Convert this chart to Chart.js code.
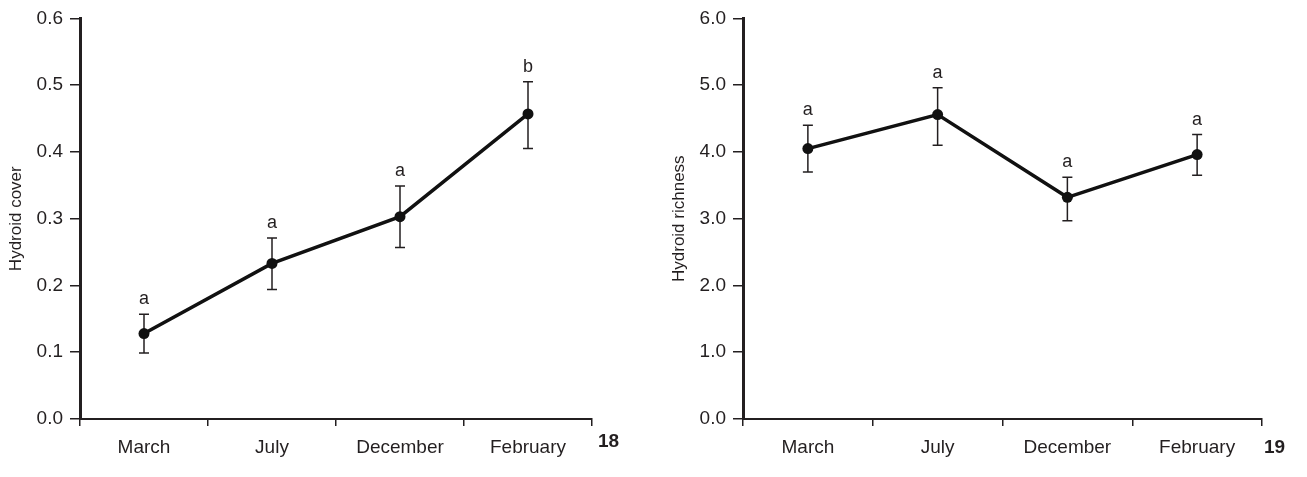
<!DOCTYPE html>
<html lang="en">
<head>
<meta charset="UTF-8">
<title>Hydroid cover and richness</title>
<script src="https://cdn.jsdelivr.net/npm/chart.js"></script>
<style>
  body { margin: 0; background: #fff; width: 1307px; height: 477px; position: relative; overflow: hidden;
         font-family: Arial, "Liberation Sans", sans-serif; }
  .panel { position: absolute; top: 0; height: 477px; }
  #p18 { left: 0; width: 650px; }
  #p19 { left: 663px; width: 644px; }
  .fig { position: absolute; font-weight: bold; font-size: 19px; color: #231f20; }
</style>
</head>
<body>
<div class="panel" id="p18"><canvas id="cover"></canvas></div>
<div class="panel" id="p19"><canvas id="richness"></canvas></div>
<div class="fig" style="left:598px; top:430px;">18</div>
<div class="fig" style="left:1264px; top:436px;">19</div>
<script>
const months = ['March', 'July', 'December', 'February'];

const coverMean   = [0.128, 0.233, 0.303, 0.457];
const coverUpper  = [0.157, 0.271, 0.349, 0.505];
const coverLower  = [0.099, 0.194, 0.257, 0.405];
const coverGroups = ['a', 'a', 'a', 'b'];

const richMean   = [4.05, 4.56, 3.32, 3.96];
const richUpper  = [4.40, 4.96, 3.62, 4.26];
const richLower  = [3.70, 4.10, 2.97, 3.65];
const richGroups = ['a', 'a', 'a', 'a'];

const ink = '#231f20';
Chart.defaults.font.family = 'Arial, "Liberation Sans", sans-serif';
Chart.defaults.color = ink;

// error bars under the line, group letters above the caps
const errorBars = {
    id: 'errorBars',
    beforeDatasetsDraw(chart, args, opts) {
        const { ctx, scales: { x, y } } = chart;
        ctx.save();
        ctx.strokeStyle = ink;
        ctx.lineWidth = 1.5;
        opts.upper.forEach((hi, i) => {
            const px = x.getPixelForValue(i);
            const top = y.getPixelForValue(hi);
            const bot = y.getPixelForValue(opts.lower[i]);
            ctx.beginPath();
            ctx.moveTo(px, top); ctx.lineTo(px, bot);
            ctx.moveTo(px - 5, top); ctx.lineTo(px + 5, top);
            ctx.moveTo(px - 5, bot); ctx.lineTo(px + 5, bot);
            ctx.stroke();
        });
        ctx.restore();
    },
    afterDatasetsDraw(chart, args, opts) {
        const { ctx, scales: { x, y } } = chart;
        ctx.save();
        ctx.fillStyle = ink;
        ctx.font = '18px Arial, "Liberation Sans", sans-serif';
        ctx.textAlign = 'center';
        ctx.textBaseline = 'middle';
        opts.letters.forEach((t, i) => {
            ctx.fillText(t, x.getPixelForValue(i), y.getPixelForValue(opts.upper[i]) - 15);
        });
        ctx.restore();
    }
};

function makeChart(id, values, upper, lower, letters, yTitle, yMax, yStep, padRight) {
    return new Chart(document.getElementById(id), {
        type: 'line',
        data: {
            labels: months,
            datasets: [{
                data: values,
                borderColor: '#111',
                borderWidth: 3.5,
                pointRadius: 5.5,
                pointBackgroundColor: '#111',
                pointBorderWidth: 0,
                tension: 0
            }]
        },
        options: {
            responsive: true,
            maintainAspectRatio: false,
            animation: false,
            layout: { padding: { top: 17, right: padRight, bottom: 0, left: 0 } },
            plugins: {
                legend: { display: false },
                tooltip: { enabled: false },
                errorBars: { upper: upper, lower: lower, letters: letters }
            },
            scales: {
                x: {
                    offset: true,
                    grid: { offset: true, drawOnChartArea: false, tickLength: 7, color: ink, lineWidth: 1.5 },
                    border: { color: ink, width: 2 },
                    ticks: { padding: 10, font: { size: 19 }, maxRotation: 0 },
                    afterFit(s) { s.height = 58; }
                },
                y: {
                    min: 0,
                    max: yMax,
                    grid: { drawOnChartArea: false, tickLength: 10, color: ink, lineWidth: 1.5 },
                    border: { color: ink, width: 3 },
                    ticks: { stepSize: yStep, padding: 7, font: { size: 19 },
                             callback: v => v.toFixed(1) },
                    title: { display: true, text: yTitle, font: { size: 17 }, padding: { top: 6, bottom: 0 } },
                    afterFit(s) { s.width = 80; }
                }
            }
        },
        plugins: [errorBars]
    });
}

makeChart('cover', coverMean, coverUpper, coverLower, coverGroups, 'Hydroid cover', 0.6, 0.1, 58);
makeChart('richness', richMean, richUpper, richLower, richGroups, 'Hydroid richness', 6, 1, 45);
</script>
</body>
</html>
